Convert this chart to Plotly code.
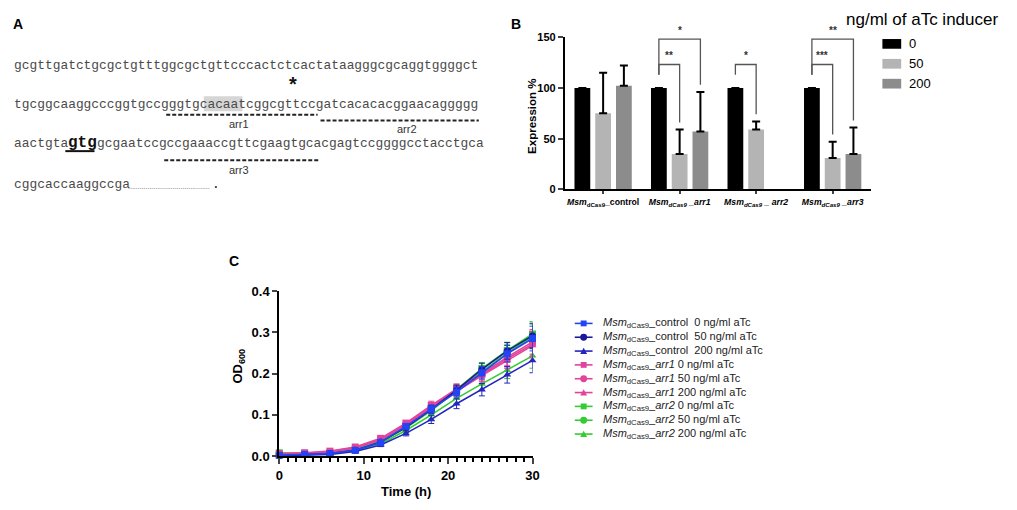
import plotly.graph_objects as go

W, H = 1017, 510


def fx(px):
    return px / W


def fy(py):
    return 1 - py / H


# ---- panel A: sequence ----
seq_line1 = "gcgttgatctgcgctgtttggcgctgttcccactctcactataagggcgcaggtggggct"
seq_line2 = "tgcggcaaggcccggtgccgggtgcacaatcggcgttccgatcacacacggaacaggggg"
seq_line3a = "aactgta"
seq_start = "gtg"
seq_line3b = "gcgaatccgccgaaaccgttcgaagtgcacgagtccggggcctacctgca"
seq_line4 = "cggcaccaaggccga"

# ---- panel B: expression ----
strains = ["control", "arr1", "arr2", "arr3"]
tick_labels = [
    "<b><i>Msm</i><sub>dCas9</sub>_control</b>",
    "<b><i>Msm<sub>dCas9</sub> _arr1</i></b>",
    "<b><i>Msm<sub>dCas9</sub> _ arr2</i></b>",
    "<b><i>Msm<sub>dCas9</sub> _arr3</i></b>",
]
expr_0 = [100, 100, 100, 100]
expr_50 = [75, 35, 59, 31]
expr_200 = [102, 57, None, 35]
err_0 = [0, 0, 0, 0]
err_50 = [40, 24, 8, 16]
err_200 = [20, 39, 0, 26]
doses = ["0", "50", "200"]
# (strain index, compared bar, label)
sig_tests = [(1, 1, "**"), (1, 2, "*"), (2, 1, "*"), (3, 1, "***"), (3, 2, "**")]

# ---- panel C: growth ----
hours = [0, 3, 6, 9, 12, 15, 18, 21, 24, 27, 30]
ctrl_0 = [0.002, 0.004, 0.006, 0.014, 0.033, 0.072, 0.114, 0.155, 0.202, 0.248, 0.285]
ctrl_50 = [0.001, 0.003, 0.006, 0.014, 0.034, 0.070, 0.113, 0.160, 0.210, 0.255, 0.292]
ctrl_200 = [0.001, 0.002, 0.004, 0.011, 0.027, 0.055, 0.089, 0.127, 0.161, 0.197, 0.232]
arr1_0 = [0.006, 0.008, 0.012, 0.022, 0.043, 0.080, 0.123, 0.163, 0.200, 0.240, 0.277]
arr1_50 = [0.005, 0.007, 0.011, 0.021, 0.041, 0.078, 0.120, 0.160, 0.197, 0.236, 0.272]
arr1_200 = [0.004, 0.006, 0.010, 0.019, 0.039, 0.075, 0.116, 0.157, 0.195, 0.232, 0.268]
arr2_0 = [0.008, 0.007, 0.009, 0.017, 0.036, 0.072, 0.115, 0.162, 0.212, 0.256, 0.296]
arr2_50 = [0.005, 0.005, 0.008, 0.016, 0.034, 0.068, 0.110, 0.158, 0.205, 0.250, 0.290]
arr2_200 = [0.004, 0.004, 0.007, 0.014, 0.030, 0.062, 0.100, 0.140, 0.175, 0.208, 0.243]
od_err = [0.002, 0.002, 0.002, 0.003, 0.004, 0.006, 0.010, 0.012, 0.015, 0.020, 0.030]

growth_series = [
    ("<i>Msm</i><sub>dCas9</sub>_control  0 ng/ml aTc", ctrl_0, "#2244f5", "square"),
    ("<i>Msm</i><sub>dCas9</sub>_control  50 ng/ml aTc", ctrl_50, "#1a1a96", "circle"),
    ("<i>Msm</i><sub>dCas9</sub>_control  200 ng/ml aTc", ctrl_200, "#2525c0", "triangle-up"),
    ("<i>Msm</i><sub>dCas9</sub>_<i>arr1</i> 0 ng/ml aTc", arr1_0, "#e2449c", "square"),
    ("<i>Msm</i><sub>dCas9</sub>_<i>arr1</i> 50 ng/ml aTc", arr1_50, "#e2449c", "circle"),
    ("<i>Msm</i><sub>dCas9</sub>_<i>arr1</i> 200 ng/ml aTc", arr1_200, "#e2449c", "triangle-up"),
    ("<i>Msm</i><sub>dCas9</sub>_<i>arr2</i> 0 ng/ml aTc", arr2_0, "#33cc33", "square"),
    ("<i>Msm</i><sub>dCas9</sub>_<i>arr2</i> 50 ng/ml aTc", arr2_50, "#33cc33", "circle"),
    ("<i>Msm</i><sub>dCas9</sub>_<i>arr2</i> 200 ng/ml aTc", arr2_200, "#33cc33", "triangle-up"),
]

bar_colors = ["#000000", "#b4b4b4", "#8c8c8c"]
BARGAP, GROUPGAP = 0.186, 0.24
slot = (1 - BARGAP) / 3

fig = go.Figure()

# bars
for vals, errs, col, dose in zip([expr_0, expr_50, expr_200], [err_0, err_50, err_200],
                                 bar_colors, doses):
    fig.add_trace(go.Bar(
        x=tick_labels, y=vals, name=dose, marker_color=col, marker_line_width=0,
        error_y=dict(type="data", array=errs, arrayminus=[0] * len(errs), symmetric=False,
                     color="black", thickness=2, width=4),
        xaxis="x", yaxis="y", showlegend=False,
    ))

# growth curves, drawn so control ends on top
for name, vals, col, sym in reversed(growth_series):
    fig.add_trace(go.Scatter(
        x=hours, y=vals, name=name, mode="lines+markers",
        line=dict(color=col, width=1.6),
        marker=dict(symbol=sym, size=7, color=col),
        error_y=dict(type="data", array=od_err, color=col, thickness=1, width=3),
        cliponaxis=False, xaxis="x2", yaxis="y2", showlegend=False,
    ))

shapes = []
ann = []

# ---- panel A layout ----
mono = "Liberation Mono, Courier New, monospace"
seq_col = "#4a4a4a"
ann.append(dict(x=fx(7), y=fy(17.5), text="<b>A</b>", font=dict(size=14, color="black")))
shapes.append(dict(type="rect", xref="paper", yref="paper", x0=fx(202), x1=fx(241),
                   y0=fy(92), y1=fy(107.5), fillcolor="#d6d6d6", line_width=0, layer="below"))
ann.append(dict(x=fx(8), y=fy(60), text=seq_line1, font=dict(family=mono, size=12.9, color=seq_col)))
ann.append(dict(x=fx(8), y=fy(100), text=seq_line2, font=dict(family=mono, size=12.9, color=seq_col)))
ann.append(dict(x=fx(8), y=fy(141), text=seq_line3a, font=dict(family=mono, size=12.9, color=seq_col)))
ann.append(dict(x=fx(62.3), y=fy(140), text="<b>" + seq_start + "</b>",
                font=dict(family=mono, size=16, color="#111")))
ann.append(dict(x=fx(92), y=fy(141), text=seq_line3b, font=dict(family=mono, size=12.9, color=seq_col)))
ann.append(dict(x=fx(8), y=fy(183), text=seq_line4, font=dict(family=mono, size=12.9, color=seq_col)))
ann.append(dict(x=fx(123), y=fy(185), text="." * 42, font=dict(size=7, color="#555")))
ann.append(dict(x=fx(208), y=fy(183), text=".", font=dict(family=mono, size=12.9, color="#111")))
shapes.append(dict(type="line", xref="paper", yref="paper", x0=fx(62), x1=fx(91.5),
                   y0=fy(148.5), y1=fy(148.5), line=dict(color="#111", width=2)))
ann.append(dict(x=fx(292), y=fy(79), text="<b>*</b>", xanchor="center",
                font=dict(size=20, color="#111")))
for x0, x1, yl, lx, ly, lab in [(164, 317, 111, 238, 121, "arr1"),
                                (320, 480, 117, 407, 126, "arr2"),
                                (162, 318, 158, 238, 168, "arr3")]:
    shapes.append(dict(type="line", xref="paper", yref="paper", x0=fx(x0), x1=fx(x1),
                       y0=fy(yl), y1=fy(yl), line=dict(color="#222", width=2, dash="4px,2px")))
    ann.append(dict(x=fx(lx), y=fy(ly), text=lab, xanchor="center", font=dict(size=11, color="#333")))

# ---- panel B extras ----
ann.append(dict(x=fx(511), y=fy(17.5), text="<b>B</b>", font=dict(size=14, color="black")))
ann.append(dict(x=fx(533), y=fy(113), text="<b>Expression %</b>", textangle=-90,
                xanchor="center", font=dict(size=11.5, color="black")))
bar_tops = [expr_0, [v + e for v, e in zip(expr_50, err_50)],
            [(v or 0) + e for v, e in zip(expr_200, err_200)]]
for g, b, lab in sig_tests:
    level = 123 if b == 1 else 148
    xl = g - slot
    xr = g + (b - 1) * slot
    right_bottom = bar_tops[b][g] + 7
    path = f"M {xl},{113} L {xl},{level} L {xr},{level} L {xr},{right_bottom}"
    shapes.append(dict(type="path", xref="x", yref="y", path=path,
                       line=dict(color="#555", width=1.3)))
    ann.append(dict(x=(xl + xr) / 2, y=level + 1.5, xref="x", yref="y", text="<b>" + lab + "</b>",
                    xanchor="center", yanchor="bottom", font=dict(size=10, color="#333")))
ann.append(dict(x=fx(849), y=fy(13), text="ng/ml of aTc inducer", font=dict(size=17, color="black")))
for i, (dose, col) in enumerate(zip(doses, bar_colors)):
    yc = 38 + i * 20.5
    shapes.append(dict(type="rect", xref="paper", yref="paper", x0=fx(888), x1=fx(907),
                       y0=fy(yc - 5), y1=fy(yc + 5), fillcolor=col, line_width=0))
    ann.append(dict(x=fx(913), y=fy(yc), text=dose, font=dict(size=13, color="black")))

# ---- panel C extras ----
ann.append(dict(x=fx(225), y=fy(262), text="<b>C</b>", font=dict(size=14, color="black")))
ann.append(dict(x=fx(237), y=fy(370), text="<b>OD<sub>600</sub></b>", textangle=-90,
                xanchor="center", font=dict(size=13, color="black")))
ann.append(dict(x=fx(406), y=fy(499), text="<b>Time (h)</b>", xanchor="center",
                font=dict(size=13, color="black")))
for i, (name, vals, col, sym) in enumerate(growth_series):
    yc = 326 + i * 14.25
    shapes.append(dict(type="line", xref="paper", yref="paper", x0=fx(577), x1=fx(595),
                       y0=fy(yc), y1=fy(yc), line=dict(color=col, width=1.6)))
    if sym == "square":
        shapes.append(dict(type="rect", xref="paper", yref="paper", x0=fx(583), x1=fx(589),
                           y0=fy(yc - 3), y1=fy(yc + 3), fillcolor=col, line_width=0))
    elif sym == "circle":
        shapes.append(dict(type="circle", xref="paper", yref="paper", x0=fx(582.5), x1=fx(589.5),
                           y0=fy(yc - 3.5), y1=fy(yc + 3.5), fillcolor=col, line_width=0))
    else:
        path = (f"M {fx(582.5)},{fy(yc + 3)} L {fx(589.5)},{fy(yc + 3)} "
                f"L {fx(586)},{fy(yc - 3.5)} Z")
        shapes.append(dict(type="path", xref="paper", yref="paper", path=path,
                           fillcolor=col, line_width=0))
    ann.append(dict(x=fx(604), y=fy(yc), text=name, font=dict(size=11, color="#222")))

for a in ann:
    a.setdefault("xref", "paper")
    a.setdefault("yref", "paper")
    a.setdefault("xanchor", "left")
    a.setdefault("yanchor", "middle")
    a["showarrow"] = False

axis_font = dict(family="Arial, Liberation Sans, sans-serif", size=11, color="black")
fig.update_layout(
    width=W, height=H, margin=dict(l=0, r=0, t=0, b=0),
    paper_bgcolor="white", plot_bgcolor="white",
    font=dict(family="Arial, Liberation Sans, sans-serif", color="black"),
    barmode="group", bargap=BARGAP, bargroupgap=GROUPGAP,
    showlegend=False,
    xaxis=dict(domain=[fx(567), fx(876.4)], range=[-0.5, 3.5], showline=True, linecolor="black",
               linewidth=2, ticks="outside", ticklen=3, tickwidth=1.5, showgrid=False,
               tickfont=dict(size=8.7, color="black"), anchor="y"),
    yaxis=dict(domain=[fy(188), fy(31)], range=[0, 150], showline=True, linecolor="black",
               linewidth=2, ticks="outside", ticklen=5, tickwidth=2, tickvals=[0, 50, 100, 150],
               ticktext=["<b>0</b>", "<b>50</b>", "<b>100</b>", "<b>150</b>"], showgrid=False,
               zeroline=False, tickfont=axis_font, anchor="x"),
    xaxis2=dict(domain=[fx(278.3), fx(534.3)], range=[0, 30], showline=True, linecolor="black",
                linewidth=2, ticks="outside", ticklen=6, tickwidth=2,
                tickvals=[0, 10, 20, 30], ticktext=["<b>0</b>", "<b>10</b>", "<b>20</b>", "<b>30</b>"],
                minor=dict(ticks="outside", ticklen=3.5, tickwidth=1.5, dtick=1, tickcolor="black"),
                showgrid=False, zeroline=False, tickfont=dict(size=13, color="black"), anchor="y2"),
    yaxis2=dict(domain=[fy(462.7), fy(292.7)], range=[0, 0.4], showline=True, linecolor="black",
                linewidth=2, ticks="outside", ticklen=5, tickwidth=2,
                tickvals=[0, 0.1, 0.2, 0.3, 0.4],
                ticktext=["<b>0.0</b>", "<b>0.1</b>", "<b>0.2</b>", "<b>0.3</b>", "<b>0.4</b>"],
                showgrid=False, zeroline=False, tickfont=dict(size=13, color="black"), anchor="x2"),
    shapes=shapes,
    annotations=ann,
)

fig.write_html("out.html", config={"displayModeBar": False},
               post_script="document.body.style.margin='0';")
